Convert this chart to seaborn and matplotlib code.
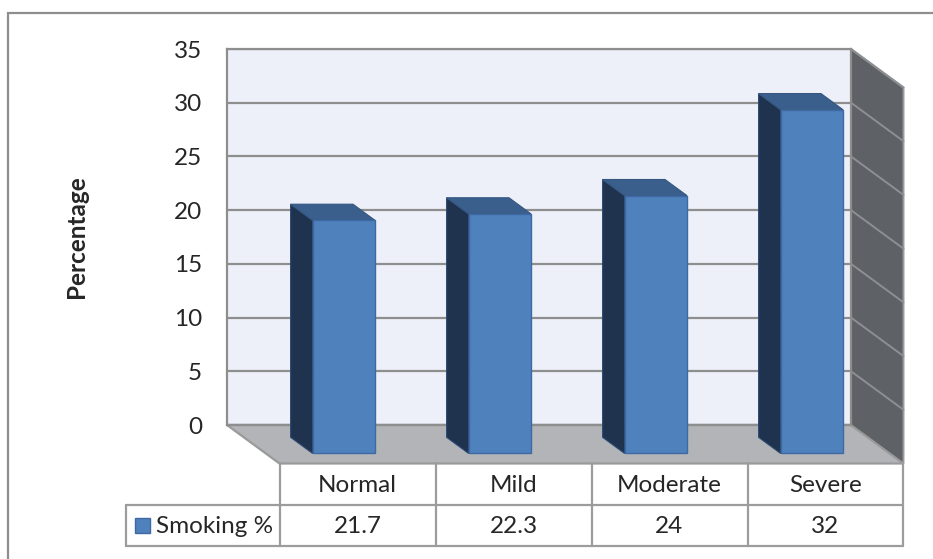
import numpy as np
import pandas as pd
import seaborn as sns
import matplotlib.pyplot as plt
from matplotlib.patches import Polygon, Rectangle
from matplotlib.lines import Line2D

# Data
categories = ["Normal", "Mild", "Moderate", "Severe"]
smoking_pct = [21.7, 22.3, 24, 32]
y_ticks = [0, 5, 10, 15, 20, 25, 30, 35]
series_label = "Smoking %"
y_label = "Percentage"

sns.set_theme(style="white")
plt.rcParams["font.family"] = ["Lato", "DejaVu Sans"]

W, H = 933, 559
fig = plt.figure(figsize=(W / 100, H / 100), dpi=100)
fig.patch.set_facecolor("white")


def fig_box(x0, y0, x1, y1):
    """Axes rectangle from pixel corners (origin top-left)."""
    return [x0 / W, 1 - y1 / H, (x1 - x0) / W, (y1 - y0) / H]


def fx(x):
    return x / W


def fy(y):
    return 1 - y / H


TEXT = "#262626"
LINE = "#9c9c9c"

# Back wall of the 3-D plot area
ax = fig.add_axes(fig_box(227, 49, 851, 425))
ax.set_facecolor("#edf0f8")

df = pd.DataFrame({"category": categories, "value": smoking_pct})
sns.barplot(data=df, x="category", y="value", ax=ax, color="#4f81bd",
            saturation=1, width=0.4, edgecolor="#3d6aa3", linewidth=1.0)

ax.set_xlim(-0.5, len(categories) - 0.5)
ax.set_ylim(0, 35)
ax.set_xlabel("")
ax.set_ylabel("")
ax.set_xticks([])
ax.set_yticks(y_ticks)
ax.set_yticklabels([str(t) for t in y_ticks], fontsize=17.5, color=TEXT)
ax.tick_params(axis="y", length=0, pad=18)
ax.set_axisbelow(True)
ax.yaxis.grid(True, color="#8e8e8e", linewidth=1.6)
for side in ["top", "left", "right", "bottom"]:
    ax.spines[side].set_color("#8e8e8e")
    ax.spines[side].set_linewidth(1.6)

# Oblique depth direction expressed in data units
x_unit = (851 - 227) / len(categories)      # pixels per category
y_unit = (425 - 49) / 35.0                  # pixels per percent
DX = 52.5 / x_unit
DY = -38.5 / y_unit
D_BACK, D_FRONT = 0.32, 0.74


def pt(x, v, d):
    return (x + d * DX, v + d * DY)


x_lo, x_hi = -0.5, len(categories) - 0.5
v_top = y_ticks[-1]

# Floor
floor = Polygon([pt(x_lo, 0, 0), pt(x_hi, 0, 0), pt(x_hi, 0, 1), pt(x_lo, 0, 1)],
                closed=True, facecolor="#b2b4b8", edgecolor="#9a9a9a",
                linewidth=1.6, clip_on=False, zorder=2)
ax.add_patch(floor)

# Right side wall with its gridlines
wall = Polygon([pt(x_hi, 0, 0), pt(x_hi, v_top, 0), pt(x_hi, v_top, 1), pt(x_hi, 0, 1)],
               closed=True, facecolor="#5e6165", edgecolor="#9a9a9a",
               linewidth=1.4, clip_on=False, zorder=2)
ax.add_patch(wall)
for t in y_ticks[1:]:
    (x0, y0), (x1, y1) = pt(x_hi, t, 0), pt(x_hi, t, 1)
    ax.add_line(Line2D([x0, x1], [y0, y1], color="#8c8f93", linewidth=1.4,
                       clip_on=False, zorder=2.1))

# Columns: move the seaborn bars to the front plane and add side/top faces
bars = [p for p in ax.patches if isinstance(p, Rectangle)][:len(categories)]
for p in bars:
    x0, w, v = p.get_x(), p.get_width(), p.get_height()
    side = Polygon([pt(x0, 0, D_BACK), pt(x0, 0, D_FRONT),
                    pt(x0, v, D_FRONT), pt(x0, v, D_BACK)],
                   closed=True, facecolor="#1f334f", edgecolor="#2b4a73",
                   linewidth=0.8, clip_on=False, zorder=4)
    top = Polygon([pt(x0, v, D_BACK), pt(x0 + w, v, D_BACK),
                   pt(x0 + w, v, D_FRONT), pt(x0, v, D_FRONT)],
                  closed=True, facecolor="#3a5f8c", edgecolor="#355782",
                  linewidth=0.8, clip_on=False, zorder=4)
    ax.add_patch(side)
    ax.add_patch(top)
    fx0, fy0 = pt(x0, 0, D_FRONT)
    p.set_x(fx0)
    p.set_y(fy0)
    p.set_clip_on(False)
    p.set_zorder(5)

# Axis title
fig.text(fx(77), fy(237), y_label, rotation=90, ha="center", va="center",
         fontsize=17.5, fontweight="bold", color=TEXT)

# Data table below the floor
fig.canvas.draw()
to_px = ax.transData
col_edges = []
for k in range(len(categories) + 1):
    xd, yd = pt(k - 0.5, 0, 1)
    col_edges.append(to_px.transform((xd, yd))[0])
row_top, row_mid, row_bot = 463, 505, 546
legend_left = 126


def hline(x0, x1, y):
    fig.add_artist(Line2D([fx(x0), fx(x1)], [fy(y), fy(y)], color=LINE,
                          linewidth=1.6, transform=fig.transFigure))


def vline(x, y0, y1):
    fig.add_artist(Line2D([fx(x), fx(x)], [fy(y0), fy(y1)], color=LINE,
                          linewidth=1.6, transform=fig.transFigure))


hline(legend_left, col_edges[-1], row_mid)
hline(legend_left, col_edges[-1], row_bot)
vline(legend_left, row_mid, row_bot)
for xe in col_edges:
    vline(xe, row_top, row_bot)

for i, (cat, val) in enumerate(zip(categories, smoking_pct)):
    xc = (col_edges[i] + col_edges[i + 1]) / 2
    fig.text(fx(xc), fy((row_top + row_mid) / 2 + 1), cat, ha="center",
             va="center", fontsize=17.5, color=TEXT)
    fig.text(fx(xc), fy((row_mid + row_bot) / 2 + 1), f"{val:g}", ha="center",
             va="center", fontsize=17.5, color=TEXT)

# Legend key inside the table
fig.add_artist(Rectangle((fx(135), fy(533)), fx(15), 15 / H, facecolor="#4f81bd",
                         edgecolor="#3d6aa3", linewidth=1.0,
                         transform=fig.transFigure))
fig.text(fx(156), fy((row_mid + row_bot) / 2 + 1), series_label, ha="left",
         va="center", fontsize=17.5, color=TEXT)

# Chart border
fig.add_artist(Rectangle((fx(8), fy(570)), fx(940), 557 / H, facecolor="none",
                         edgecolor="#8e8e8e", linewidth=1.6,
                         transform=fig.transFigure, clip_on=False))

fig.savefig("out.png", dpi=100)
